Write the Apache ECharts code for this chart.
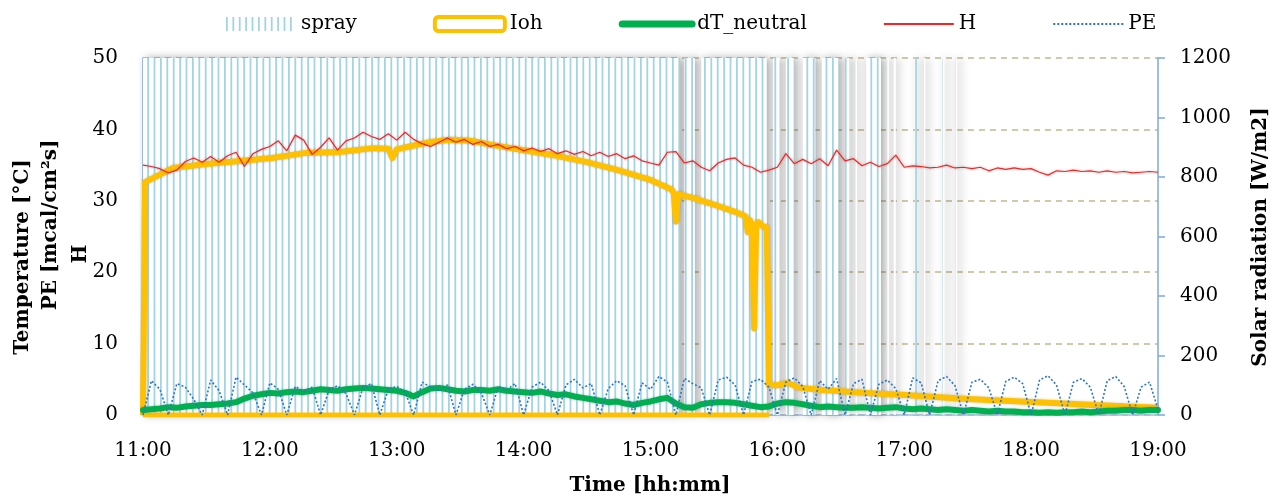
<!DOCTYPE html>
<html>
<head>
<meta charset="utf-8">
<script src="https://cdn.jsdelivr.net/npm/echarts@6/dist/echarts.min.js"></script>
<style>
  html, body { margin: 0; padding: 0; background: #fff; }
  #chart { width: 1281px; height: 497px; }
</style>
</head>
<body>
<div id="chart"></div>
<script>
// clock times of the 4-minute samples (H, PE, dT_neutral)
var sampleTimes = [
  '11:00 11:04 11:08 11:12 11:16 11:20 11:24 11:28 11:32 11:36 11:40 11:44 11:48 11:52 11:56',
  '12:00 12:04 12:08 12:12 12:16 12:20 12:24 12:28 12:32 12:36 12:40 12:44 12:48 12:52 12:56',
  '13:00 13:04 13:08 13:12 13:16 13:20 13:24 13:28 13:32 13:36 13:40 13:44 13:48 13:52 13:56',
  '14:00 14:04 14:08 14:12 14:16 14:20 14:24 14:28 14:32 14:36 14:40 14:44 14:48 14:52 14:56',
  '15:00 15:04 15:08 15:12 15:16 15:20 15:24 15:28 15:32 15:36 15:40 15:44 15:48 15:52 15:56',
  '16:00 16:04 16:08 16:12 16:16 16:20 16:24 16:28 16:32 16:36 16:40 16:44 16:48 16:52 16:56',
  '17:00 17:04 17:08 17:12 17:16 17:20 17:24 17:28 17:32 17:36 17:40 17:44 17:48 17:52 17:56',
  '18:00 18:04 18:08 18:12 18:16 18:20 18:24 18:28 18:32 18:36 18:40 18:44 18:48 18:52 18:56',
  '19:00'
].join(' ').split(' ');

var hValues = [
  35.0, 34.8, 34.5, 33.9, 34.3, 35.5, 36.0, 35.4, 36.2, 35.4, 36.3, 36.8, 34.8, 36.6, 37.2,
  37.6, 38.4, 37.0, 39.2, 38.5, 36.5, 37.5, 38.8, 37.1, 38.4, 38.8, 39.6, 39.0, 38.6, 39.4,
  38.5, 39.6, 38.6, 38.0, 37.6, 38.2, 38.8, 38.2, 38.6, 37.9, 38.3, 37.6, 37.9, 37.3, 37.6,
  37.0, 37.4, 36.9, 37.3, 36.6, 37.0, 36.5, 36.9, 36.3, 36.8, 36.2, 36.6, 35.9, 36.3, 35.6,
  35.3, 35.0, 36.8, 36.9, 35.3, 35.6, 34.7, 34.2, 35.3, 35.8, 36.0, 35.0, 34.7, 34.0, 34.3,
  34.7, 36.6, 35.2, 35.8, 35.2, 35.9, 34.9, 37.1, 35.6, 35.9, 34.9, 35.4, 34.8, 35.2, 36.4,
  34.7, 34.9, 34.8, 34.6, 34.7, 35.0, 34.6, 34.7, 34.5, 34.7, 34.2, 34.6, 34.4, 34.6, 34.4,
  34.5, 34.0, 33.6, 34.2, 34.1, 34.3, 34.1, 34.2, 34.0, 34.2, 34.0, 34.1, 33.9, 34.0, 34.1, 34.0
];

var peValues = [
  0, 4.8, 3.6, 0, 4.4, 3.9, 2.2, 0, 4.9, 3.4, 0, 5.3, 4.2, 3.1, 0, 4.5,
  3.6, 0, 4.0, 3.3, 3.9, 0, 3.5, 4.1, 3.0, 0, 3.8, 4.4, 0, 3.6, 4.0,
  3.2, 0, 4.6, 3.9, 3.4, 4.2, 0, 3.6, 4.3, 3.1, 0, 4.0, 3.5, 4.4, 0,
  3.9, 4.6, 3.4, 0, 4.2, 5.0, 3.8, 4.4, 0, 3.7, 4.8, 4.1, 0, 4.5, 3.6,
  5.4, 4.6, 0, 5.1, 4.4, 3.8, 0, 4.9, 5.3, 4.2, 0, 4.7, 5.0, 3.9, 0,
  4.6, 5.2, 4.0, 0, 4.8, 3.6, 5.1, 0, 4.4, 5.0, 0, 4.3, 4.9, 3.7, 0,
  5.2, 4.5, 0, 4.8, 5.4, 4.1, 0, 4.6, 5.0, 3.8, 0, 4.7, 5.3, 4.4, 0,
  4.9, 5.5, 4.2, 0, 4.6, 5.1, 3.9, 0, 4.8, 5.4, 4.0, 0, 3.9, 4.6, 0.8
];

var dtValues = [
  0.7, 0.8, 0.9, 1.1, 1.0, 1.2, 1.3, 1.4, 1.4, 1.5, 1.6, 1.8, 2.3, 2.7, 2.9,
  3.1, 3.0, 3.2, 3.3, 3.2, 3.4, 3.6, 3.5, 3.4, 3.6, 3.7, 3.8, 3.7, 3.6, 3.5,
  3.4, 3.1, 2.6, 3.2, 3.7, 3.8, 3.6, 3.4, 3.3, 3.5, 3.5, 3.4, 3.6, 3.4, 3.3,
  3.2, 3.1, 3.3, 3.0, 2.8, 2.9, 2.6, 2.4, 2.2, 2.0, 1.8, 1.9, 1.6, 1.4, 1.7,
  1.9, 2.2, 2.4, 1.6, 1.1, 1.0, 1.5, 1.7, 1.8, 1.8, 1.7, 1.5, 1.3, 1.1, 1.2,
  1.6, 1.8, 1.7, 1.5, 1.3, 1.1, 1.2, 1.1, 1.0, 1.0, 1.1, 1.0, 0.9, 1.0, 1.1,
  0.9, 0.8, 0.9, 0.8, 0.7, 0.8, 0.7, 0.6, 0.7, 0.6, 0.5, 0.6, 0.5, 0.5, 0.4,
  0.4, 0.3, 0.4, 0.3, 0.4, 0.4, 0.5, 0.4, 0.5, 0.6, 0.6, 0.7, 0.7, 0.6, 0.7, 0.7
];

// solar radiation Ioh [W/m2], irregular times
var iohTimes = ['11:00', '11:01', '11:14', '11:30', '11:46', '12:01', '12:17', '12:33', '12:49', '12:56',
  '12:58', '13:00', '13:05', '13:16', '13:25', '13:35', '13:45', '14:00', '14:15', '14:30',
  '14:45', '15:00', '15:10', '15:11', '15:12', '15:13', '15:20', '15:30', '15:40', '15:45',
  '15:46', '15:47', '15:48', '15:49', '15:50', '15:51', '15:53', '15:55', '15:56', '16:00',
  '16:05', '16:10', '16:20', '16:40', '17:00', '17:30', '18:00', '18:30', '19:00'];
var iohValues = [0, 783, 830, 844, 854, 864, 881, 884, 897, 895,
  864, 893, 901, 918, 925, 922, 908, 890, 872, 850,
  822, 790, 758, 745, 650, 742, 730, 707, 683, 667,
  615, 655, 640, 292, 642, 648, 635, 630, 101, 100,
  108, 92, 85, 75, 67, 54, 44, 34, 24];
var iohBaseTimes = ['11:00', '15:56'];
var iohBaseValues = [0, 0];

// spray on-periods (start, end)
var sprayOn = [
  ['11:00', '15:14'], ['15:16', '15:21'], ['15:24', '15:55'], ['15:58', '16:01'],
  ['16:04', '16:08'], ['16:12', '16:18'], ['16:21', '16:29'], ['16:32', '16:34'],
  ['16:37', '16:38'], ['16:42', '16:49'], ['16:52', '16:53'], ['16:55', '16:56'],
  ['17:05', '17:06'], ['17:09', '17:10'], ['17:18', '17:19'], ['17:24', '17:25']
];

function toMin(s) {
  var p = s.split(':');
  return (+p[0] - 11) * 60 + (+p[1]);
}
function pairs(times, vals) {
  return times.map(function (s, i) { return [toMin(s), vals[i]]; });
}

// vertical stripe pattern for the spray columns
var stripeCanvas = document.createElement('canvas');
stripeCanvas.width = 32;
stripeCanvas.height = 8;
var sctx = stripeCanvas.getContext('2d');
sctx.fillStyle = '#ffffff';
sctx.fillRect(0, 0, 32, 8);
sctx.fillStyle = '#a3d4e6';
for (var k = 0; k < 5; k++) sctx.fillRect(k * 6.4, 0, 1.8, 8);
var stripeFill = { image: stripeCanvas, repeat: 'repeat' };

var serif = 'DejaVu Serif';
var titleFont = 'bold 20px "DejaVu Serif"';
var chart = echarts.init(document.getElementById('chart'));

chart.setOption({
  animation: false,
  backgroundColor: '#fff',
  grid: { left: 143, right: 123, top: 58, bottom: 82 },
  legend: {
    left: 221,
    top: 9,
    itemWidth: 70,
    itemHeight: 14,
    itemGap: 76,
    textStyle: { fontFamily: serif, fontSize: 20, color: '#000' },
    data: [
      { name: 'spray', icon: 'rect', itemStyle: { color: stripeFill } },
      { name: 'Ioh', icon: 'roundRect', itemStyle: { color: '#fff', borderColor: '#ffc000', borderWidth: 4 } },
      { name: 'dT_neutral', itemStyle: { opacity: 0 }, lineStyle: { width: 7, cap: 'round' } },
      { name: 'H', itemStyle: { opacity: 0 } },
      { name: 'PE', itemStyle: { opacity: 0 } }
    ]
  },
  xAxis: {
    type: 'value',
    min: 0,
    max: 480,
    interval: 60,
    axisLine: { lineStyle: { color: '#9dc3e6', width: 1.5 } },
    axisTick: { show: false },
    splitLine: { show: false },
    axisLabel: {
      margin: 26,
      fontFamily: serif,
      fontSize: 20,
      color: '#000',
      formatter: function (v) { return (11 + v / 60) + ':00'; }
    }
  },
  yAxis: [
    {
      type: 'value',
      min: 0,
      max: 50,
      interval: 10,
      position: 'left',
      axisLine: { show: true, lineStyle: { color: '#8db4e2', width: 1.5 } },
      axisTick: { show: false },
      splitLine: { show: true, lineStyle: { color: '#c4b88f', width: 1.5, type: [6, 5] } },
      axisLabel: { margin: 25, fontFamily: serif, fontSize: 20, color: '#000' }
    },
    {
      type: 'value',
      min: 0,
      max: 1200,
      interval: 200,
      position: 'right',
      axisLine: { show: true, lineStyle: { color: '#7ea8dc', width: 1.5 } },
      axisTick: { show: true, length: 7, lineStyle: { color: '#7ea8dc', width: 1.5 } },
      splitLine: { show: false },
      axisLabel: {
        margin: 22, fontFamily: serif, fontSize: 20, color: '#000',
        formatter: function (v) { return String(v); }
      }
    }
  ],
  graphic: [
    { type: 'text', x: 23, y: 257, rotation: Math.PI / 2,
      style: { text: 'Temperature [°C]', font: titleFont, fill: '#000', align: 'center', verticalAlign: 'middle' } },
    { type: 'text', x: 51, y: 225, rotation: Math.PI / 2,
      style: { text: 'PE [mcal/cm²s]', font: titleFont, fill: '#000', align: 'center', verticalAlign: 'middle' } },
    { type: 'text', x: 81, y: 254, rotation: Math.PI / 2,
      style: { text: 'H', font: titleFont, fill: '#000', align: 'center', verticalAlign: 'middle' } },
    { type: 'text', x: 1261, y: 237, rotation: Math.PI / 2,
      style: { text: 'Solar radiation [W/m2]', font: titleFont, fill: '#000', align: 'center', verticalAlign: 'middle' } },
    { type: 'text', x: 650, y: 486,
      style: { text: 'Time [hh:mm]', font: titleFont, fill: '#000', align: 'center', verticalAlign: 'middle' } }
  ],
  series: [
    {
      name: 'spray',
      type: 'custom',
      z: 1,
      itemStyle: { color: stripeFill },
      data: sprayOn.map(function (p) { return [toMin(p[0]), toMin(p[1])]; }),
      encode: { x: [0, 1] },
      renderItem: function (params, api) {
        var a = api.coord([api.value(0), 50]);
        var b = api.coord([api.value(1), 0]);
        return {
          type: 'rect',
          shape: { x: a[0], y: a[1], width: b[0] - a[0], height: b[1] - a[1] },
          style: {
            fill: stripeFill,
            shadowBlur: 8,
            shadowColor: 'rgba(0,0,0,0.35)',
            shadowOffsetX: 3
          }
        };
      }
    },
    {
      name: 'Ioh',
      type: 'line',
      yAxisIndex: 1,
      z: 3,
      symbol: 'none',
      clip: false,
      lineStyle: { color: '#ffc000', width: 6, join: 'round', shadowBlur: 3, shadowColor: 'rgba(0,0,0,0.2)' },
      itemStyle: { color: '#ffc000' },
      data: pairs(iohTimes, iohValues)
    },
    {
      name: 'Ioh',
      type: 'line',
      yAxisIndex: 1,
      z: 3,
      symbol: 'none',
      lineStyle: { color: '#ffc000', width: 5 },
      itemStyle: { color: '#ffc000' },
      data: pairs(iohBaseTimes, iohBaseValues)
    },
    {
      name: 'dT_neutral',
      type: 'line',
      z: 4,
      symbol: 'none',
      lineStyle: { color: '#00b050', width: 6, join: 'round', cap: 'round', shadowBlur: 3, shadowColor: 'rgba(0,0,0,0.2)' },
      itemStyle: { color: '#00b050' },
      data: pairs(sampleTimes, dtValues)
    },
    {
      name: 'H',
      type: 'line',
      z: 5,
      symbol: 'none',
      lineStyle: { color: '#ff2020', width: 1.2, shadowBlur: 3, shadowColor: 'rgba(0,0,0,0.25)' },
      itemStyle: { color: '#ff2020' },
      data: pairs(sampleTimes, hValues)
    },
    {
      name: 'PE',
      type: 'line',
      z: 6,
      symbol: 'none',
      lineStyle: { color: '#2e75c6', width: 1.6, type: [2, 2] },
      itemStyle: { color: '#2e75c6' },
      data: pairs(sampleTimes, peValues)
    }
  ]
});
</script>
</body>
</html>
